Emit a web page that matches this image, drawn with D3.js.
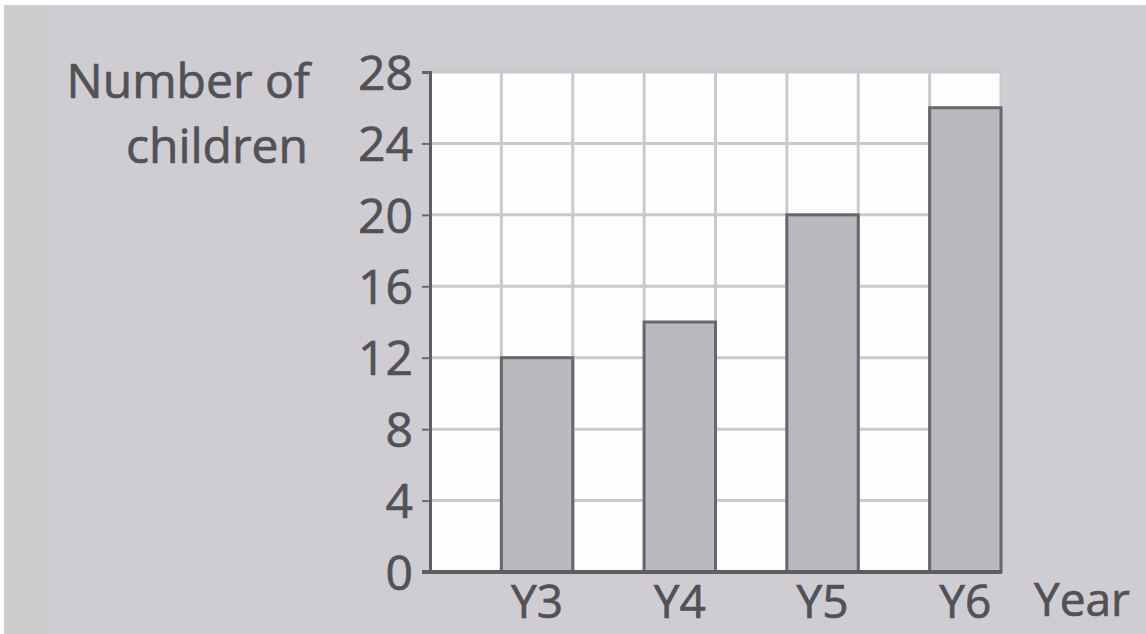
<!DOCTYPE html>
<html>
<head>
<meta charset="utf-8">
<script src="https://cdn.jsdelivr.net/npm/d3@7"></script>
<style>
  html, body { margin: 0; padding: 0; background: #fff; }
  svg { display: block; }
  text { font-family: "Open Sans", "Noto Sans", sans-serif; fill: #525156; stroke: #525156; stroke-width: 0.7px; }
</style>
</head>
<body>
<svg id="chart" width="1146" height="634"></svg>
<script>
const years = ['Y3', 'Y4', 'Y5', 'Y6'];
const children = [12, 14, 20, 26];
const yTicks = [0, 4, 8, 12, 16, 20, 24, 28];

(function(){
  const svg = d3.select('#chart');
  const W = 1146, H = 634;
  const left = 430, right = 1001, top = 72, bottom = 572;

  // scanned page background
  svg.append('rect').attr('x', 4).attr('y', 5).attr('width', W - 4).attr('height', H - 5)
    .attr('fill', '#cfcdd2');
  svg.append('rect').attr('x', 4).attr('y', 5).attr('width', 42).attr('height', H - 5)
    .attr('fill', '#cdcccf');

  const y = d3.scaleLinear().domain([0, 28]).range([bottom, top]);
  const x = d3.scaleBand().domain(years).range([left, right])
    .paddingInner(0.5).paddingOuter(0.25).align(1);
  const col = d3.scaleLinear().domain([0, 8]).range([left, right]);

  // white grid paper
  svg.append('rect').attr('x', left).attr('y', top)
    .attr('width', right - left).attr('height', bottom - top).attr('fill', '#fdfdfd');

  const grid = svg.append('g').attr('stroke', '#cac9cd').attr('stroke-width', 3);
  grid.selectAll('line.v').data(d3.range(1, 9)).join('line')
    .attr('class', 'v')
    .attr('x1', d => col(d)).attr('x2', d => col(d))
    .attr('y1', top).attr('y2', bottom);
  grid.selectAll('line.h').data(yTicks.slice(1)).join('line')
    .attr('class', 'h')
    .attr('x1', left).attr('x2', right)
    .attr('y1', d => y(d)).attr('y2', d => y(d));

  // bars
  svg.append('g').selectAll('rect').data(years).join('rect')
    .attr('x', d => x(d))
    .attr('y', (d, i) => y(children[i]))
    .attr('width', x.bandwidth())
    .attr('height', (d, i) => y(0) - y(children[i]))
    .attr('fill', '#bab9bd')
    .attr('stroke', '#68676b')
    .attr('stroke-width', 3);

  // y axis
  const yAxis = svg.append('g').attr('transform', `translate(${left},0)`)
    .call(d3.axisLeft(y).tickValues(yTicks).tickSize(8).tickPadding(9));
  yAxis.select('.domain').attr('stroke', '#5e5d61').attr('stroke-width', 3);
  yAxis.selectAll('.tick line').attr('stroke', '#6a696d').attr('stroke-width', 2);
  yAxis.selectAll('.tick text').attr('font-size', 48).attr('dy', '0.36em')
    .attr('font-family', null);

  // x axis line
  svg.append('line').attr('x1', left - 8).attr('x2', right + 1)
    .attr('y1', bottom).attr('y2', bottom)
    .attr('stroke', '#5e5d61').attr('stroke-width', 4);

  svg.append('g').selectAll('text').data(years).join('text')
    .attr('x', d => x(d) + x.bandwidth() / 2)
    .attr('y', 618)
    .attr('text-anchor', 'middle')
    .attr('font-size', 46)
    .text(d => d);

  svg.append('text').attr('x', 1034).attr('y', 616)
    .attr('font-size', 46).text('Year');

  svg.append('text').attr('x', 310).attr('y', 98)
    .attr('text-anchor', 'end').attr('font-size', 48).text('Number of');
  svg.append('text').attr('x', 308).attr('y', 163)
    .attr('text-anchor', 'end').attr('font-size', 48).text('children');
})();
</script>
</body>
</html>
